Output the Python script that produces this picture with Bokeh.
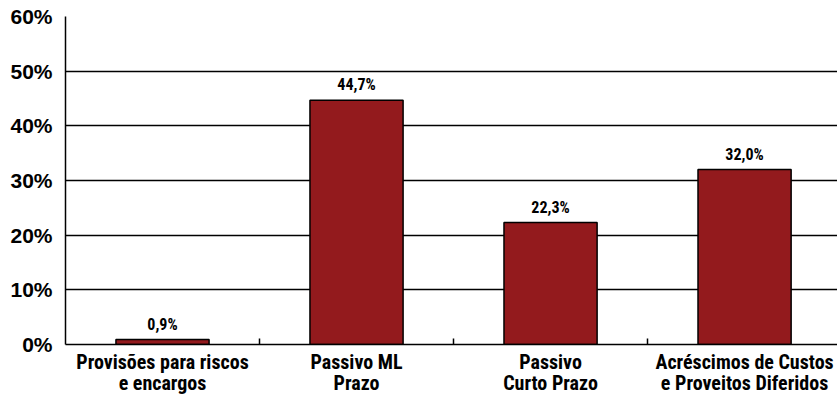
from bokeh.plotting import figure
from bokeh.models import ColumnDataSource, Range1d, FixedTicker, LabelSet
from bokeh.core.properties import value
from bokeh.embed import file_html
from bokeh.resources import INLINE

categories = ["Provisões para riscos\ne encargos", "Passivo ML\nPrazo",
              "Passivo\nCurto Prazo", "Acréscimos de Custos\ne Proveitos Diferidos"]
values = [0.9, 44.7, 22.3, 32.0]
value_labels = ["0,9%", "44,7%", "22,3%", "32,0%"]
y_ticks = [0, 10, 20, 30, 40, 50, 60]

COND = "Roboto Condensed"

centers = [i + 0.5 for i in range(len(categories))]
bounds = [i for i in range(1, len(categories))]

src = ColumnDataSource(dict(x=centers, top=values, lab=value_labels))

p = figure(width=837, height=397, output_backend="svg", toolbar_location=None,
           x_range=Range1d(0, 3.979), y_range=Range1d(0, 60),
           min_border_left=65, min_border_right=0, min_border_top=16, min_border_bottom=51)
p.outline_line_color = None
p.background_fill_color = "white"

p.vbar(x="x", top="top", width=0.48, source=src,
       fill_color="#931a1d", line_color="black", line_width=1.5)

# value labels above the bars
labels = LabelSet(x="x", y="top", text="lab", source=src, text_align="center",
                  text_baseline="bottom", y_offset=6, text_font=value(COND),
                  text_font_style="bold", text_font_size="16px", text_color="black")
p.add_layout(labels)

# y axis
p.yaxis.ticker = FixedTicker(ticks=y_ticks)
p.yaxis.major_label_overrides = {t: f"{t}%" for t in y_ticks}
p.yaxis.major_label_text_font = "Liberation Sans"
p.yaxis.major_label_text_font_style = "bold"
p.yaxis.major_label_text_font_size = "21px"
p.yaxis.major_label_text_color = "black"
p.yaxis.major_tick_in = 0
p.yaxis.major_tick_out = 0
p.yaxis.minor_tick_line_color = None
p.yaxis.major_label_standoff = 13
p.yaxis.axis_line_color = "black"
p.yaxis.axis_line_width = 1.5

# x axis: two-line names at category centres, small inner ticks at boundaries
p.xaxis.ticker = FixedTicker(ticks=centers, minor_ticks=bounds)
p.xaxis.major_label_overrides = {c: lab for c, lab in zip(centers, categories)}
p.xaxis.major_label_text_font = COND
p.xaxis.major_label_text_font_style = "bold"
p.xaxis.major_label_text_font_size = "20px"
p.xaxis.major_label_text_color = "black"
p.xaxis.major_label_text_line_height = 0.88
p.xaxis.major_tick_in = 0
p.xaxis.major_tick_out = 0
p.xaxis.minor_tick_in = 6
p.xaxis.minor_tick_out = 0
p.xaxis.minor_tick_line_color = "black"
p.xaxis.minor_tick_line_width = 1.5
p.xaxis.major_label_standoff = 5
p.xaxis.axis_line_color = "black"
p.xaxis.axis_line_width = 1.5

p.xgrid.grid_line_color = None
p.ygrid.ticker = FixedTicker(ticks=y_ticks)
p.ygrid.grid_line_color = "black"
p.ygrid.grid_line_width = 1.5

open("out.html", "w").write(file_html(p, INLINE))
